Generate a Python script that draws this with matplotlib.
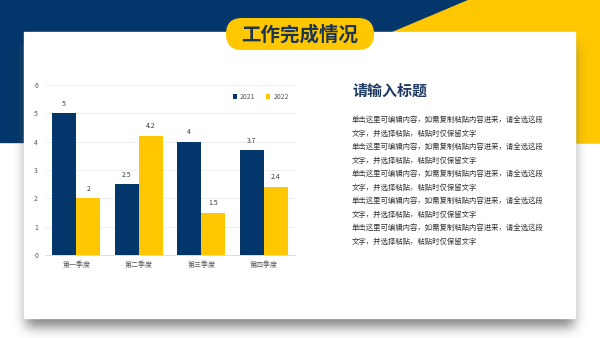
import numpy as np
import matplotlib
matplotlib.use("Agg")
import matplotlib.pyplot as plt
from matplotlib.patches import Rectangle, Polygon, FancyBboxPatch

plt.rcParams['font.family'] = ['Noto Sans CJK SC', 'DejaVu Sans']

# data
quarters = ["第一季度", "第二季度", "第三季度", "第四季度"]
series_names = ["2021", "2022"]
values_2021 = [5, 2.5, 4, 3.7]
values_2022 = [2, 4.2, 1.5, 2.4]
y_ticks = [0, 1, 2, 3, 4, 5, 6]

page_title = "工作完成情况"
side_title = "请输入标题"
side_lines = ["单击这里可编辑内容，如需复制粘贴内容进来，请全选这段",
              "文字，并选择粘贴，粘贴时仅保留文字"] * 5

navy = "#03366a"
yellow = "#ffc700"
title_navy = "#1b3553"

W, H = 600, 338
fig = plt.figure(figsize=(W / 100, H / 100), dpi=100)

# background layer in pixel coords
bg = fig.add_axes([0, 0, 1, 1])
bg.set_xlim(0, W)
bg.set_ylim(H, 0)
bg.axis("off")

bg.add_patch(Rectangle((0, 0), W, 142, color=navy, zorder=1))
slope = 76 / 32
bg.add_patch(Polygon([(468, 0), (W, 0), (W, 142), (468 - slope * 142, 142)],
                     closed=True, color=yellow, zorder=2))

# soft shadow under the card
yy, xx = np.mgrid[0:H, 0:W]
mask = ((xx >= 26) & (xx <= 573) & (yy >= 44) & (yy <= 326)).astype(float)
sigma = 6
k = np.arange(-3 * sigma, 3 * sigma + 1)
kern = np.exp(-k ** 2 / (2 * sigma ** 2))
kern /= kern.sum()
blur = np.apply_along_axis(lambda r: np.convolve(r, kern, mode="same"), 1, mask)
blur = np.apply_along_axis(lambda c: np.convolve(c, kern, mode="same"), 0, blur)
shadow = np.zeros((H, W, 4))
shadow[..., :3] = 0.35
shadow[..., 3] = blur * 0.75
bg.imshow(shadow, extent=(0, W, H, 0), zorder=3, interpolation="bilinear")
bg.set_xlim(0, W)
bg.set_ylim(H, 0)

# white card
bg.add_patch(Rectangle((24, 32), 551, 286, color="white", zorder=4))

# title pill
bg.add_patch(FancyBboxPatch((226, 18), 148, 32,
                            boxstyle="round,pad=0,rounding_size=16",
                            fc=yellow, ec="none", zorder=5))
bg.text(300, 34.5, page_title, ha="center", va="center", fontsize=14,
        fontweight="bold", color=title_navy, zorder=6)

# right side text
bg.text(352, 91, side_title, ha="left", va="center", fontsize=10.8,
        fontweight="bold", color="#1f3b64", zorder=6)
for i, line in enumerate(side_lines):
    bg.text(352, 120 + i * 13.5, line, ha="left", va="center",
            fontsize=5.3, color="#333333", zorder=6)

# bar chart
ax = fig.add_axes([45 / W, (H - 255) / H, 250 / W, 170 / H])
ax.patch.set_alpha(0)
x = np.arange(len(quarters))
bw = 0.385
b1 = ax.bar(x - bw / 2, values_2021, bw, color=navy, label=series_names[0], zorder=3)
b2 = ax.bar(x + bw / 2, values_2022, bw, color=yellow, label=series_names[1], zorder=3)
for bars in (b1, b2):
    ax.bar_label(bars, padding=4, fontsize=5, color="#404040")

ax.set_xlim(-0.5, len(quarters) - 0.5)
ax.set_ylim(0, 6)
ax.set_yticks(y_ticks)
ax.set_xticks(x)
ax.set_xticklabels(quarters)
ax.tick_params(axis="both", length=0, labelsize=5, colors="#595959")
ax.tick_params(axis="y", pad=5)
ax.tick_params(axis="x", pad=4)
ax.grid(axis="y", color="#ececec", linewidth=0.6, zorder=0)
for s in ["top", "right", "left"]:
    ax.spines[s].set_visible(False)
ax.spines["bottom"].set_color("#d9d9d9")
ax.spines["bottom"].set_linewidth(0.6)

ax.legend(loc="upper right", bbox_to_anchor=(1.0, 0.99), ncol=2, frameon=False,
          fontsize=5, handlelength=0.6, handleheight=0.6, handletextpad=0.4,
          columnspacing=1.6, labelcolor="#595959")

fig.savefig("out.png", dpi=100)
